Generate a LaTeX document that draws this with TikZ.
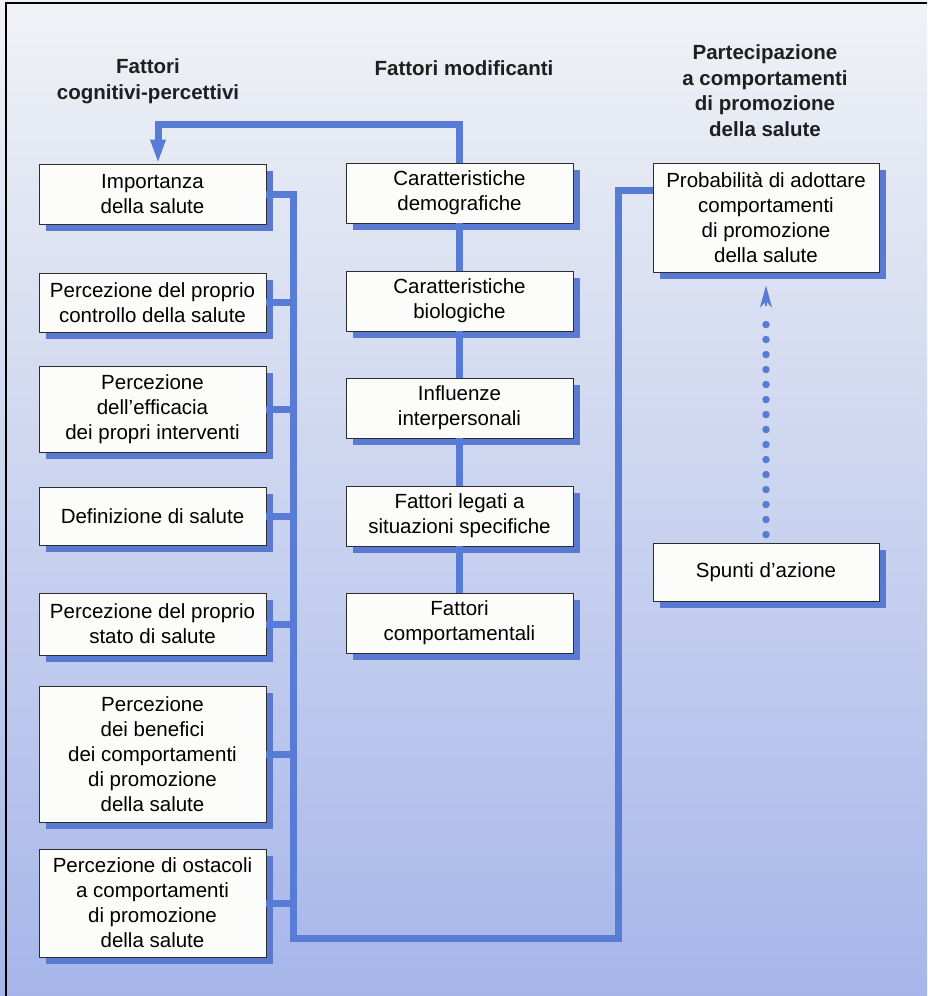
\documentclass[tikz,border=0pt]{standalone}
\usepackage{fontspec}
\setmainfont{Liberation Sans}
\usetikzlibrary{shadows,arrows.meta,calc}
\definecolor{linkblue}{RGB}{88,124,214}
\definecolor{shadowblue}{RGB}{90,122,210}
\definecolor{bgtop}{RGB}{240,242,245}
\definecolor{bgmid}{RGB}{202,211,240}
\definecolor{bgbot}{RGB}{166,182,234}
\definecolor{boxfill}{RGB}{252,252,250}
\definecolor{boxline}{RGB}{45,45,45}
\begin{document}
\begin{tikzpicture}[x=1pt,y=-1pt,
  box/.style={draw=boxline, line width=0.9pt, fill=boxfill, align=center, inner sep=0pt,
    font=\fontsize{20.5}{25}\selectfont,
    drop shadow={shadow xshift=7pt, shadow yshift=-7pt, fill=shadowblue, opacity=1}},
  lbox/.style={box, minimum width=227pt},
  mbox/.style={box, minimum width=227pt, minimum height=60pt},
  rbox/.style={box, minimum width=226pt},
  head/.style={align=center, font=\fontsize{20.5}{25.5}\selectfont\bfseries, text=black!88},
  conn/.style={draw=linkblue, line width=7pt, line join=miter},
]
% background and frame
\useasboundingbox (0,0) rectangle (927,996);
\shade[top color=bgtop, middle color=bgmid, bottom color=bgbot] (0,0) rectangle (927,996);
\draw[black, line width=2pt] (6,996) -- (6,2.5) -- (927,2.5);

% headers
\node[head] (h1) at (148,81) {Fattori\\cognitivi-percettivi};
\node[head] (h2) at (464,68) {Fattori modificanti};
\node[head] (h3) at (765,90.5) {Partecipazione\\a comportamenti\\di promozione\\della salute};

% left column
\node[lbox, minimum height=60pt] (B1) at (152.5,194) {Importanza\\della salute};
\node[lbox, minimum height=59pt] (B2) at (152.5,302.5) {Percezione del proprio\\controllo della salute};
\node[lbox, minimum height=86pt] (B3) at (152.5,409) {Percezione\\dell’efficacia\\dei propri interventi};
\node[lbox, minimum height=58pt] (B4) at (152.5,516) {Definizione di salute};
\node[lbox, minimum height=62pt] (B5) at (152.5,624) {Percezione del proprio\\stato di salute};
\node[lbox, minimum height=136pt] (B6) at (152.5,754) {Percezione\\dei benefici\\dei comportamenti\\di promozione\\della salute};
\node[lbox, minimum height=108pt] (B7) at (152.5,903) {Percezione di ostacoli\\a comportamenti\\di promozione\\della salute};

% middle column
\node[mbox] (M1) at (459.5,193) {Caratteristiche\\demografiche};
\node[mbox] (M2) at (459.5,301) {Caratteristiche\\biologiche};
\node[mbox] (M3) at (459.5,408) {Influenze\\interpersonali};
\node[mbox] (M4) at (459.5,516) {Fattori legati a\\situazioni specifiche};
\node[mbox] (M5) at (459.5,623) {Fattori\\comportamentali};

% right column
\node[rbox, minimum height=109pt] (R1) at (766,217.5) {Probabilità di adottare\\comportamenti\\di promozione\\della salute};
\node[rbox, minimum height=58pt] (R2) at (766,572) {Spunti d’azione};

% connector coordinates
\coordinate (bus) at (293,194);
\coordinate (busBot) at (293,938);
\coordinate (rBot) at (618,938);
\coordinate (rTop) at (618,190);
\coordinate (topL) at (158,124);

% feedback arrow to B1
\draw[conn, -{Triangle[length=24pt,width=14pt]}] (M1.north) |- (topL) -- (topL |- B1.north);

% middle chain
\draw[conn] (M1.south) -- (M2.north);
\draw[conn] (M2.south) -- (M3.north);
\draw[conn] (M3.south) -- (M4.north);
\draw[conn] (M4.south) -- (M5.north);

% left bus to right box
\draw[conn] (B1.east) -- (bus) -- (busBot) -- (rBot) -- (rTop) -- (rTop -| R1.west);
\foreach \b in {B2,B3,B4,B5,B6,B7}{
  \draw[conn] (\b.east) -- (\b.east -| bus);
}

% dotted arrow from cues to probability
\draw[linkblue, line width=7.5pt, line cap=round, dash pattern=on 0pt off 15pt]
  ($(R2.north)+(0,-8)$) -- ($(R1.south)+(0,42)$);
\draw[linkblue, line width=2.5pt, -{Stealth[length=22pt,width=12pt,inset=6pt]}]
  ($(R1.south)+(0,34)$) -- ($(R1.south)+(0,13)$);
\end{tikzpicture}
\end{document}
